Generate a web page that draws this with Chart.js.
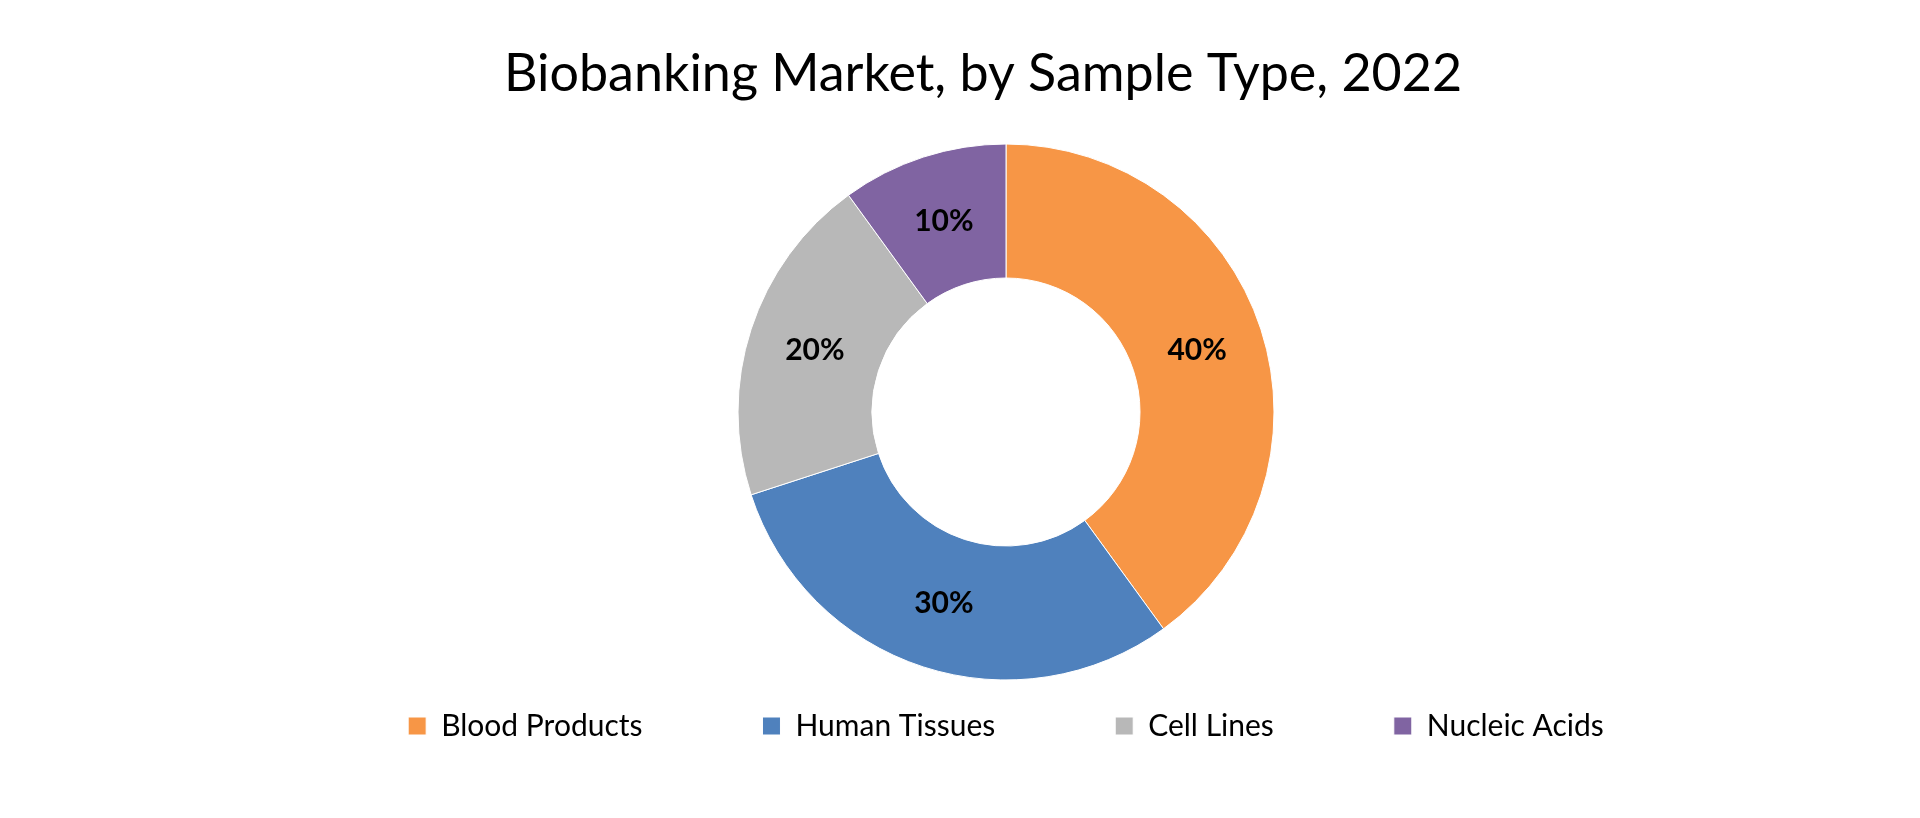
<!DOCTYPE html>
<html>
<head>
<meta charset="utf-8">
<script src="https://cdn.jsdelivr.net/npm/chart.js@4"></script>
<style>
  html, body { margin: 0; padding: 0; background: #ffffff; }
  #wrap { width: 1920px; height: 818px; }
</style>
</head>
<body>
<div id="wrap"><canvas id="myChart" width="1920" height="818"></canvas></div>
<script>
"use strict";

const categories = [`Blood Products`, `Human Tissues`, `Cell Lines`, `Nucleic Acids`];
const shares = [40, 30, 20, 10];
const sliceColors = [`#F79646`, `#4F81BD`, `#B8B8B8`, `#8064A2`];
const titleText = `Biobanking Market, by Sample Type, 2022`;

// draws the percent text in the middle of each slice
const sliceLabels = {
  id: `sliceLabels`,
  afterDatasetsDraw(chart) {
    const ctx = chart.ctx;
    const meta = chart.getDatasetMeta(0);
    ctx.save();
    ctx.font = `bold 30px Lato`;
    ctx.fillStyle = `#000000`;
    ctx.textAlign = `center`;
    ctx.textBaseline = `middle`;
    meta.data.forEach((arc, i) => {
      const pos = arc.tooltipPosition();
      ctx.fillText(`${shares[i]}%`, pos.x, pos.y);
    });
    ctx.restore();
  }
};

// title sits a little left of the ring centre in the original
const topTitle = {
  id: `topTitle`,
  afterDraw(chart) {
    const ctx = chart.ctx;
    ctx.save();
    ctx.font = `52px Lato`;
    ctx.fillStyle = `#000000`;
    ctx.textAlign = `center`;
    ctx.textBaseline = `middle`;
    ctx.fillText(titleText, chart.width / 2 + 23, 74);
    ctx.restore();
  }
};

const chartCanvas = document.getElementById(`myChart`).getContext(`2d`);
const chart = new Chart(chartCanvas, {
  type: `doughnut`,
  data: {
    labels: categories,
    datasets: [
      {
        data: shares,
        backgroundColor: sliceColors,
        borderColor: `#ffffff`,
        borderWidth: 1,
        radius: 268,
        cutout: `50%`
      }
    ]
  },
  options: {
    responsive: false,
    animation: false,
    layout: {
      padding: { left: 92, right: 0, top: 233, bottom: 67 }
    },
    plugins: {
      title: { display: false },
      legend: {
        position: `bottom`,
        labels: {
          boxWidth: 18,
          boxHeight: 18,
          padding: 120,
          color: `#000000`,
          font: { family: `Lato`, size: 30 }
        }
      },
      tooltip: { enabled: false }
    }
  },
  plugins: [sliceLabels, topTitle]
});
</script>
</body>
</html>
